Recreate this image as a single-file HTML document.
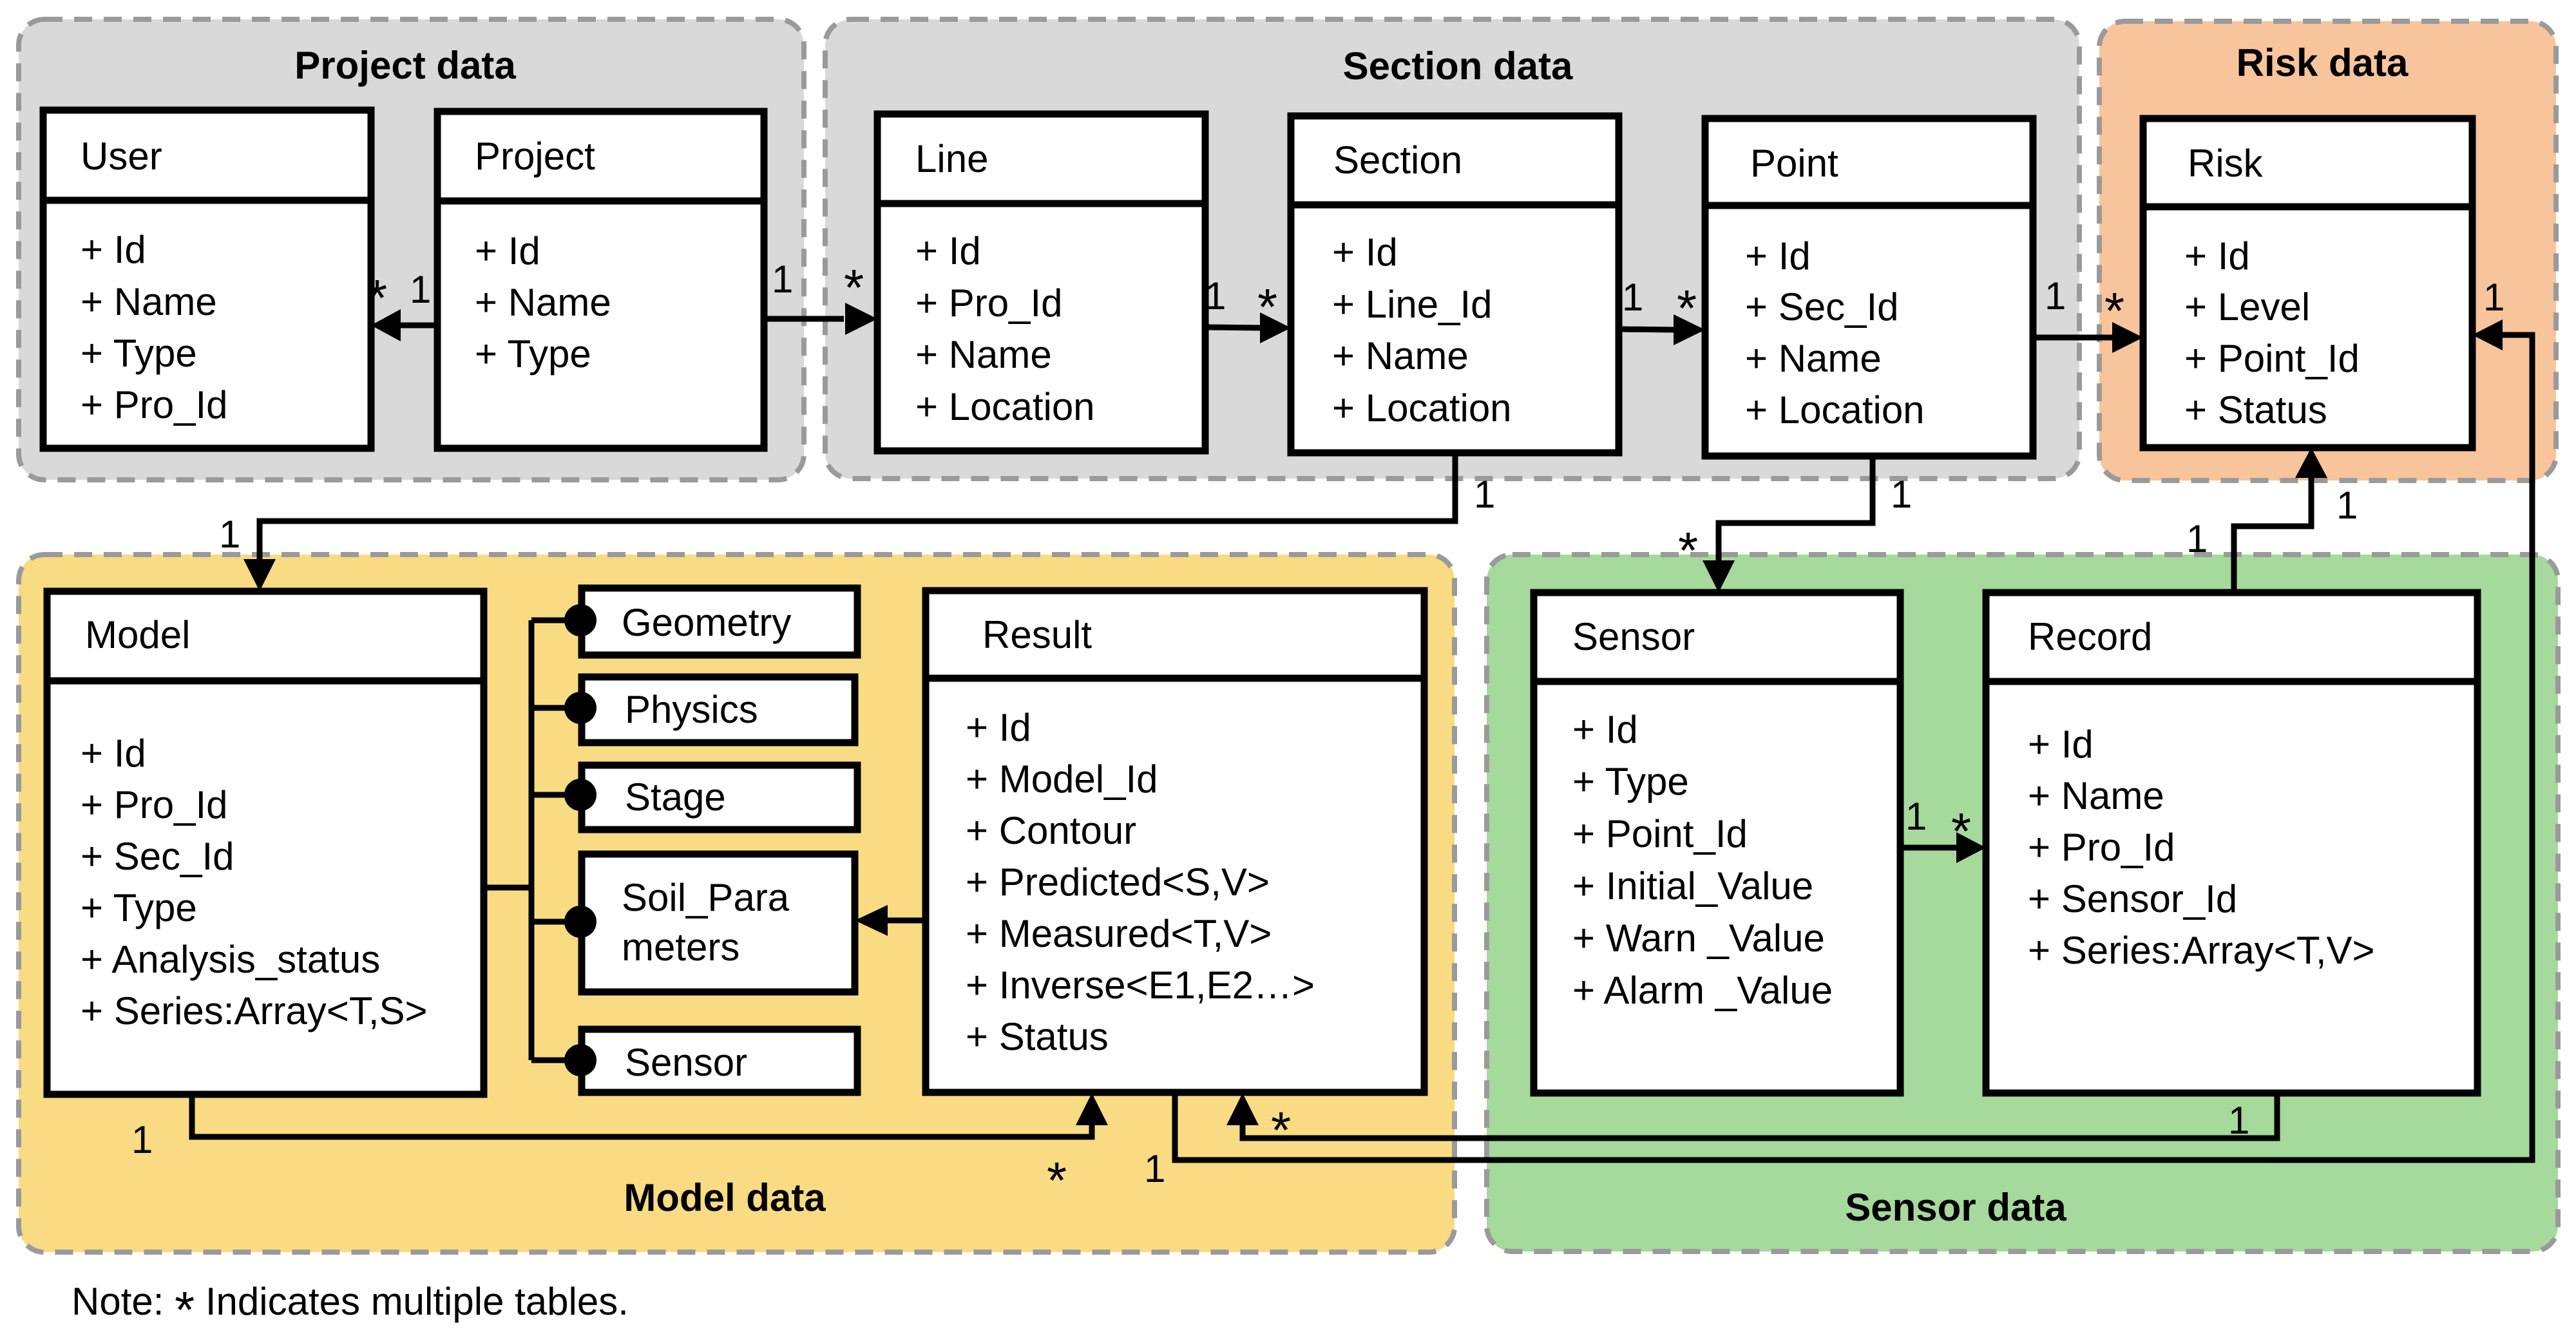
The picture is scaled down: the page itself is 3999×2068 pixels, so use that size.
<!DOCTYPE html>
<html><head><meta charset="utf-8"><style>
html,body{margin:0;padding:0;background:#fff;}
svg{display:block;}
text{font-family:"Liberation Sans",Arial,sans-serif;font-size:60px;fill:#000;}
.b{font-weight:bold;}
.s{font-size:80px;}
</style></head><body>
<svg width="3999" height="2068" viewBox="0 0 3999 2068" xmlns="http://www.w3.org/2000/svg">
<g stroke="#9a9a9a" stroke-width="8" stroke-dasharray="28 18">
<rect x="29" y="30" width="1219" height="715" rx="40" fill="#d9d9d9"/>
<rect x="1281" y="30" width="1947" height="713" rx="40" fill="#d9d9d9"/>
<rect x="3259" y="33" width="709" height="713" rx="40" fill="#f8c49c"/>
<rect x="29" y="861" width="2229" height="1083" rx="40" fill="#f8db82"/>
<rect x="2308" y="861" width="1663" height="1082" rx="40" fill="#a6d99c"/>
</g>
<text class="b" x="629" y="122" text-anchor="middle">Project data</text>
<text class="b" x="2263" y="123" text-anchor="middle">Section data</text>
<text class="b" x="3605" y="118" text-anchor="middle">Risk data</text>
<text class="b" x="1125" y="1880" text-anchor="middle">Model data</text>
<text class="b" x="3036" y="1895" text-anchor="middle">Sensor data</text>

<g fill="#fff" stroke="#000" stroke-width="11">
<rect x="67" y="171" width="509" height="525"/><line x1="67" y1="311" x2="576" y2="311"/>
<rect x="679" y="173" width="507" height="523"/><line x1="679" y1="312" x2="1186" y2="312"/>
<rect x="1362" y="177" width="509" height="523"/><line x1="1362" y1="316" x2="1871" y2="316"/>
<rect x="2004" y="180" width="509" height="523"/><line x1="2004" y1="318" x2="2513" y2="318"/>
<rect x="2647" y="184" width="509" height="524"/><line x1="2647" y1="319" x2="3156" y2="319"/>
<rect x="3327" y="184" width="511" height="511"/><line x1="3327" y1="321" x2="3838" y2="321"/>
<rect x="73" y="918" width="678" height="781"/><line x1="73" y1="1057" x2="751" y2="1057"/>
<rect x="1437" y="917" width="774" height="779"/><line x1="1437" y1="1053" x2="2211" y2="1053"/>
<rect x="2381" y="920" width="569" height="777"/><line x1="2381" y1="1058" x2="2950" y2="1058"/>
<rect x="3083" y="920" width="763" height="777"/><line x1="3083" y1="1058" x2="3846" y2="1058"/>
<rect x="903" y="913" width="428" height="104"/>
<rect x="903" y="1051" width="424" height="102"/>
<rect x="903" y="1188" width="428" height="100"/>
<rect x="903" y="1326" width="424" height="214"/>
<rect x="903" y="1598" width="428" height="98"/>
</g>

<g fill="none" stroke="#000" stroke-width="9">
<polyline points="679,505 620,505"/>
<polyline points="1186,495 1310,495"/>
<polyline points="1871,508 1958,509"/>
<polyline points="2513,511 2600,512"/>
<polyline points="3156,524 3282,524"/>
<polyline points="2259,703 2259,809 403,809 403,868"/>
<polyline points="2907,708 2907,812 2668,812 2668,870"/>
<polyline points="3468,920 3468,817 3588,817 3588,740"/>
<polyline points="2950,1316 3040,1316"/>
<polyline points="751,1378 825,1378"/>
<polyline points="825,963 825,1646"/>
<polyline points="825,963 900,963"/><polyline points="825,1099 900,1099"/><polyline points="825,1234 900,1234"/><polyline points="825,1431 900,1431"/><polyline points="825,1646 900,1646"/>
<polyline points="1437,1429 1375,1429"/>
<polyline points="298,1699 298,1765 1695,1765 1695,1745"/>
<polyline points="3535,1697 3535,1767 1929,1767 1929,1745"/>
<polyline points="1824,1697 1824,1801 3931,1801 3931,520 3885,520"/>
</g>
<g fill="#000">
<polygon points="576,505 622,480 622,530"/>
<polygon points="1362,495 1312,470 1312,520"/>
<polygon points="2004,509 1956,485 1956,533"/>
<polygon points="2647,512 2598,488 2598,536"/>
<polygon points="3327,524 3279,500 3279,548"/>
<polygon points="403,918 378,868 428,868"/>
<polygon points="2668,920 2643,870 2693,870"/>
<polygon points="3588,695 3563,742 3613,742"/>
<polygon points="3083,1316 3037,1292 3037,1340"/>
<polygon points="3838,520 3885,496 3885,544"/>
<polygon points="1327,1429 1378,1405 1378,1453"/>
<polygon points="1695,1697 1670,1747 1720,1747"/>
<polygon points="1929,1697 1904,1747 1954,1747"/>
<circle cx="901" cy="963" r="25"/><circle cx="901" cy="1099" r="25"/><circle cx="901" cy="1234" r="25"/><circle cx="901" cy="1431" r="25"/><circle cx="901" cy="1646" r="25"/>
</g>

<text class="s" x="570" y="490">*</text><text x="636" y="470">1</text>
<text x="1198" y="454">1</text><text class="s" x="1310" y="474">*</text>
<text x="1870" y="480">1</text><text class="s" x="1952" y="504">*</text>
<text x="2518" y="482">1</text><text class="s" x="2603" y="506">*</text>
<text x="3174" y="480">1</text><text class="s" x="3267" y="510">*</text>
<text x="2288" y="788">1</text><text x="340" y="850">1</text>
<text x="2935" y="788">1</text><text class="s" x="2605" y="882">*</text>
<text x="3394" y="857">1</text><text x="3627" y="805">1</text>
<text x="3855" y="482">1</text>
<text x="2958" y="1288">1</text><text class="s" x="3029" y="1318">*</text>
<text x="204" y="1790">1</text><text class="s" x="1625" y="1860">*</text>
<text x="1776" y="1835">1</text><text class="s" x="1973" y="1782">*</text>
<text x="3459" y="1760">1</text>

<text x="125" y="263">User</text>
<text x="737" y="263">Project</text>
<text x="1421" y="267">Line</text>
<text x="2070" y="269">Section</text>
<text x="2717" y="274">Point</text>
<text x="3396" y="274">Risk</text>
<text x="132" y="1006">Model</text>
<text x="1525" y="1006">Result</text>
<text x="2441" y="1009">Sensor</text>
<text x="3148" y="1009">Record</text>
<text x="965" y="987">Geometry</text>
<text x="970" y="1122">Physics</text>
<text x="970" y="1258">Stage</text>
<text x="965" y="1414">Soil_Para</text>
<text x="965" y="1491">meters</text>
<text x="970" y="1670">Sensor</text>

<g>
<text x="125" y="408">+ Id</text><text x="125" y="489">+ Name</text><text x="125" y="569">+ Type</text><text x="125" y="649">+ Pro_Id</text>
<text x="737" y="410">+ Id</text><text x="737" y="490">+ Name</text><text x="737" y="570">+ Type</text>
<text x="1421" y="410">+ Id</text><text x="1421" y="491">+ Pro_Id</text><text x="1421" y="571">+ Name</text><text x="1421" y="652">+ Location</text>
<text x="2068" y="412">+ Id</text><text x="2068" y="493">+ Line_Id</text><text x="2068" y="573">+ Name</text><text x="2068" y="654">+ Location</text>
<text x="2709" y="418">+ Id</text><text x="2709" y="497">+ Sec_Id</text><text x="2709" y="577">+ Name</text><text x="2709" y="657">+ Location</text>
<text x="3391" y="418">+ Id</text><text x="3391" y="497">+ Level</text><text x="3391" y="577">+ Point_Id</text><text x="3391" y="657">+ Status</text>
<text x="125" y="1190">+ Id</text><text x="125" y="1270">+ Pro_Id</text><text x="125" y="1350">+ Sec_Id</text><text x="125" y="1430">+ Type</text><text x="125" y="1510">+ Analysis_status</text><text x="125" y="1590">+ Series:Array&lt;T,S&gt;</text>
<text x="1499" y="1150">+ Id</text><text x="1499" y="1230">+ Model_Id</text><text x="1499" y="1310">+ Contour</text><text x="1499" y="1390">+ Predicted&lt;S,V&gt;</text><text x="1499" y="1470">+ Measured&lt;T,V&gt;</text><text x="1499" y="1550">+ Inverse&lt;E1,E2…&gt;</text><text x="1499" y="1630">+ Status</text>
<text x="2441" y="1153">+ Id</text><text x="2441" y="1234">+ Type</text><text x="2441" y="1315">+ Point_Id</text><text x="2441" y="1396">+ Initial_Value</text><text x="2441" y="1477">+ Warn _Value</text><text x="2441" y="1558">+ Alarm _Value</text>
<text x="3148" y="1176">+ Id</text><text x="3148" y="1256">+ Name</text><text x="3148" y="1336">+ Pro_Id</text><text x="3148" y="1416">+ Sensor_Id</text><text x="3148" y="1496">+ Series:Array&lt;T,V&gt;</text>
</g>
<text x="111" y="2041">Note: <tspan font-size="80" dy="20">*</tspan><tspan dy="-20"> Indicates multiple tables.</tspan></text>
</svg>
</body></html>
